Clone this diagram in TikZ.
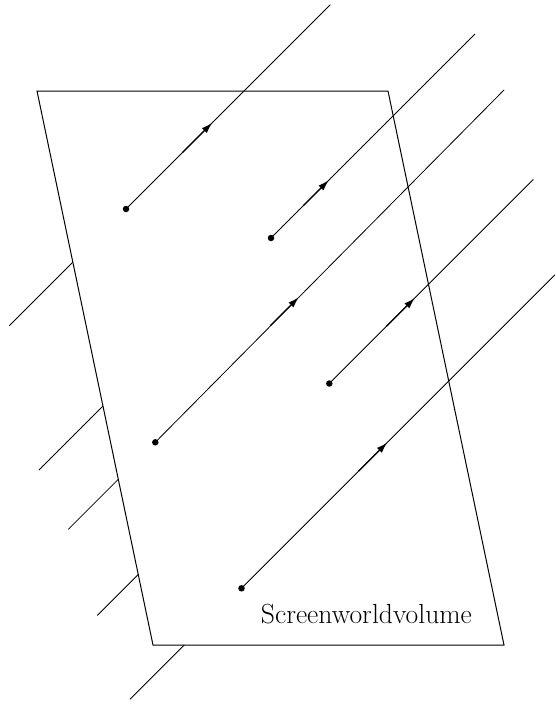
\documentclass[tikz,border=0pt]{standalone}
\usetikzlibrary{arrows.meta}
\begin{document}
\begin{tikzpicture}[x=1pt,y=-1pt,
  dotnode/.style={circle,fill=black,inner sep=0pt,minimum size=6.5pt},
  ray/.style={line width=0.8pt},
  vecseg/.style={line width=1.3pt,-{Latex[length=11pt,width=7pt]}},
  frame/.style={line width=1pt},
  lbl/.style={font=\fontsize{27.6}{33}\selectfont,anchor=base}]
\useasboundingbox (0,0) rectangle (555,704);
% frame
\coordinate (q1) at (37,91);
\coordinate (q2) at (388,91);
\coordinate (q3) at (504,645);
\coordinate (q4) at (153,645);
\draw[frame] (q1) -- (q2) -- (q3) -- (q4) -- cycle;
% dots
\node[dotnode] (d1) at (126,209) {};
\node[dotnode] (d2) at (271,238) {};
\node[dotnode] (d3) at (155.3,442.3) {};
\node[dotnode] (d4) at (329.3,383.5) {};
\node[dotnode] (d5) at (241.5,588.3) {};
% forward ends
\coordinate (e1) at (330.3,4.7);
\coordinate (e2) at (475,34);
\coordinate (e3) at (504,90);
\coordinate (e4) at (533.3,179.5);
\coordinate (e5) at (555,274.8);
% arrow tips and arrow segment starts
\coordinate (t1) at (212.2,122.8);
\coordinate (s1) at (182.7,152.3);
\coordinate (t2) at (328.8,180.2);
\coordinate (s2) at (303.3,205.7);
\coordinate (t3) at (298.8,297.2);
\coordinate (s3) at (270.3,325.7);
\coordinate (t4) at (414.8,298);
\coordinate (s4) at (386.3,326.5);
\coordinate (t5) at (387.2,442.6);
\coordinate (s5) at (358.7,471.1);
% backward extensions outside the frame
\coordinate (b1) at (72.6,262.4);
\coordinate (c1) at (9.3,325.7);
\coordinate (b2) at (103.1,405.9);
\coordinate (c2) at (39,470);
\coordinate (b3) at (118.4,479.2);
\coordinate (c3) at (68.3,529.3);
\coordinate (b4) at (138.5,574.3);
\coordinate (c4) at (97.3,615.5);
\coordinate (b5) at (184.3,645);
\coordinate (c5) at (130,699.3);
% rays
\foreach \i in {1,...,5}{
  \draw[ray] (d\i.center) -- (e\i);
  \draw[vecseg] (s\i) -- (t\i);
  \draw[ray] (b\i) -- (c\i);
}
% label
\node[lbl] (lab) at (366.4,623) {Screenworldvolume};
\end{tikzpicture}
\end{document}
